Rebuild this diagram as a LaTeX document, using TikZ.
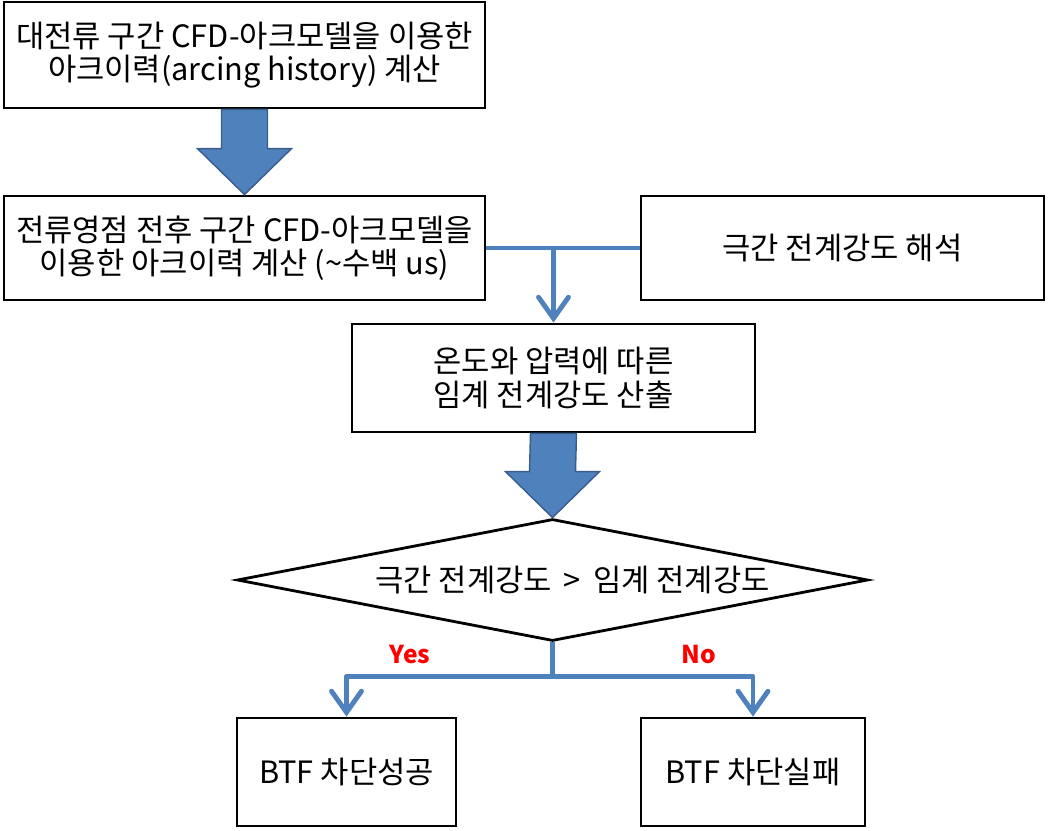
\documentclass[tikz,border=0pt]{standalone}
\usepackage{fontspec}
\setmainfont{Noto Sans CJK KR}
\usetikzlibrary{arrows.meta,shapes.geometric,calc}

\definecolor{flowblue}{RGB}{79,129,189}
\definecolor{flowedge}{RGB}{56,93,138}

\tikzset{
  stepbox/.style={draw=black, line width=1.6pt, align=center, inner sep=0pt,
    font=\fontsize{17.5}{19}\selectfont},
  bluelink/.style={draw=flowblue, line width=2.8pt, line join=round},
  blueend/.style={bluelink, -{Straight Barb[length=12pt,width=17pt,line cap=round]}},
  answer/.style={text=red, font=\bfseries\fontsize{14}{16}\selectfont},
}

% big block arrow from one box down to the next
\newcommand{\bigdown}[2]{%
  \filldraw[fill=flowblue, draw=flowedge, line width=0.8pt]
    ($(#1.south)+(-23,0)$) -- ($(#1.south)+(23,0)$)
    -- ($(#2.north)+(23,-46)$) -- ($(#2.north)+(47,-46)$)
    -- (#2.north)
    -- ($(#2.north)+(-47,-46)$) -- ($(#2.north)+(-23,-46)$) -- cycle;}

\begin{document}
\begin{tikzpicture}[x=0.02cm, y=-0.02cm]
  \useasboundingbox (0,0) rectangle (1048,831);

  % boxes
  \node[stepbox, minimum width=9.62cm, minimum height=2.12cm] (arcbig) at (244.5,55)
    {대전류 구간 CFD-아크모델을 이용한\\아크이력(arcing history) 계산};
  \node[stepbox, minimum width=9.62cm, minimum height=2.08cm] (arczero) at (244.5,248)
    {전류영점 전후 구간 CFD-아크모델을\\이용한 아크이력 계산 (\textasciitilde 수백 us)};
  \node[stepbox, minimum width=8.06cm, minimum height=2.08cm] (field) at (842.5,248)
    {극간 전계강도 해석};
  \node[stepbox, minimum width=8.06cm, minimum height=2.16cm] (crit) at (553.5,378)
    {온도와 압력에 따른\\임계 전계강도 산출};
  \node[stepbox, shape=diamond, shape aspect=5.17,
        minimum width=12.62cm, minimum height=2.44cm] (check) at (552.5,580)
    {\hspace*{0.8cm}극간 전계강도 \,>\, 임계 전계강도};
  \node[stepbox, minimum width=4.38cm, minimum height=2.16cm] (ok) at (346.5,772)
    {BTF 차단성공};
  \node[stepbox, minimum width=4.48cm, minimum height=2.16cm] (fail) at (753,772)
    {BTF 차단실패};

  % block arrows
  \bigdown{arcbig}{arczero}
  \bigdown{crit}{check}

  % thin connectors
  \draw[bluelink] (arczero.east) -- (field.west);
  \coordinate (merge) at (arczero.east -| crit.north);
  \draw[blueend] (merge) -- (crit.north);

  \coordinate (split) at ($(check.south)+(0,34)$);
  \draw[bluelink] (check.south) -- (split);
  \draw[blueend] (split) -| (ok.north);
  \draw[blueend] (split) -| (fail.north);

  \node[answer] (yes) at (410,655) {Yes};
  \node[answer] (no) at (699,655) {No};
\end{tikzpicture}
\end{document}
